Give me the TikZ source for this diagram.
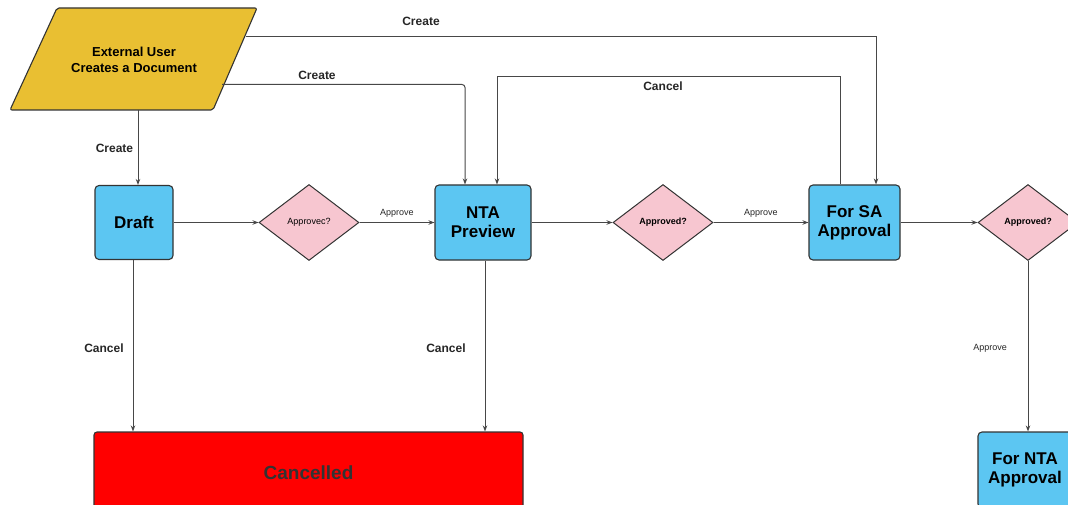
\documentclass[tikz,border=0pt]{standalone}
\usepackage{fontspec}
\setmainfont{Liberation Sans}
\usetikzlibrary{shapes.geometric,arrows.meta}
\definecolor{gold}{HTML}{E9BF32}
\definecolor{sky}{HTML}{5CC6F2}
\definecolor{pinkd}{HTML}{F7C6D0}
\definecolor{redc}{HTML}{FF0000}
\definecolor{edge}{HTML}{333333}
\tikzset{
  stepbox/.style={draw=edge, line width=1.1pt, fill=sky, rounded corners=4pt, inner sep=0pt, align=center, font=\fontsize{17}{19}\selectfont\bfseries},
  decide/.style={diamond, draw=edge, line width=1pt, fill=pinkd, inner sep=0pt, minimum width=100pt, minimum height=76pt, font=\fontsize{9}{10}\selectfont},
  conn/.style={draw=edge!90, line width=1pt, -{Stealth[length=6pt,width=4.5pt]}},
  lbl/.style={font=\fontsize{12}{13}\selectfont\bfseries, text=black!85},
  slbl/.style={font=\fontsize{9}{10}\selectfont, text=black!85},
}
\begin{document}
\begin{tikzpicture}[x=1pt,y=-1pt]
\useasboundingbox (0,0) rectangle (1068,505);
\clip (0,0) rectangle (1068,505);
% parallelogram
\draw[draw=edge, line width=1.1pt, fill=gold, rounded corners=2pt] (10,110) -- (57,8) -- (257,8) -- (213,110) -- cycle;
\node[align=center, font=\fontsize{13}{16}\selectfont\bfseries] (ext) at (134,60) {External User\\Creates a Document};
\coordinate (extB) at (138,110);
\coordinate (extR) at (222,84.5);
\coordinate (extT) at (246,36.5);
% nodes
\node[stepbox, minimum width=78pt, minimum height=74pt] (draft) at (134,222.5) {Draft};
\node[decide] (d1) at (309,222.5) {Approvec?};
\node[stepbox, minimum width=96pt, minimum height=75pt] (nta) at (483,222.5) {NTA\\Preview};
\node[decide, font=\fontsize{9}{10}\selectfont\bfseries] (d2) at (663,222.5) {Approved?};
\node[stepbox, minimum width=91pt, minimum height=75pt] (sa) at (854.5,222.5) {For SA\\Approval};
\node[decide, font=\fontsize{9}{10}\selectfont\bfseries] (d3) at (1028,222.5) {Approved?};
\node[stepbox, minimum width=94pt, minimum height=76pt] (ntaa) at (1025,470) {For NTA\\Approval};
\node[draw=edge, line width=1.1pt, fill=redc, rounded corners=3pt, minimum width=429pt, minimum height=90pt, inner sep=0pt, font=\fontsize{19}{21}\selectfont\bfseries, text=black!80] (canc) at (308.5,477) {\raisebox{9pt}{Cancelled}};
% connectors
\draw[conn] (extB) -- (extB |- draft.north) node[midway, left, lbl, xshift=-1pt, yshift=-1pt] {Create};
\draw[conn, rounded corners=3pt] (extR) -| ([xshift=-18pt]nta.north);
\node[lbl] at (317,75) {Create};
\draw[conn] (extT) -| ([xshift=21.5pt]sa.north);
\node[lbl] at (421,21) {Create};
\draw[conn] ([xshift=-14.5pt]sa.north) |- (600,76.5) -| ([xshift=14pt]nta.north);
\node[lbl] at (663,86) {Cancel};
\draw[conn] (draft.east) -- (d1.west);
\draw[conn] (d1.east) -- (nta.west) node[midway, above, slbl, yshift=1pt] {Approve};
\draw[conn] (nta.east) -- (d2.west);
\draw[conn] (d2.east) -- (sa.west) node[midway, above, slbl, yshift=1pt] {Approve};
\draw[conn] (sa.east) -- (d3.west);
\draw[conn] (d3.south) -- (d3.south |- ntaa.north);
\node[slbl] at (990,348) {Approve};
\draw[conn] ([xshift=-1pt]draft.south) -- ([xshift=-1pt]draft.south |- canc.north);
\node[lbl] at (104,348) {Cancel};
\draw[conn] ([xshift=2pt]nta.south) -- ([xshift=2pt]nta.south |- canc.north);
\node[lbl] at (446,348) {Cancel};
\end{tikzpicture}
\end{document}
